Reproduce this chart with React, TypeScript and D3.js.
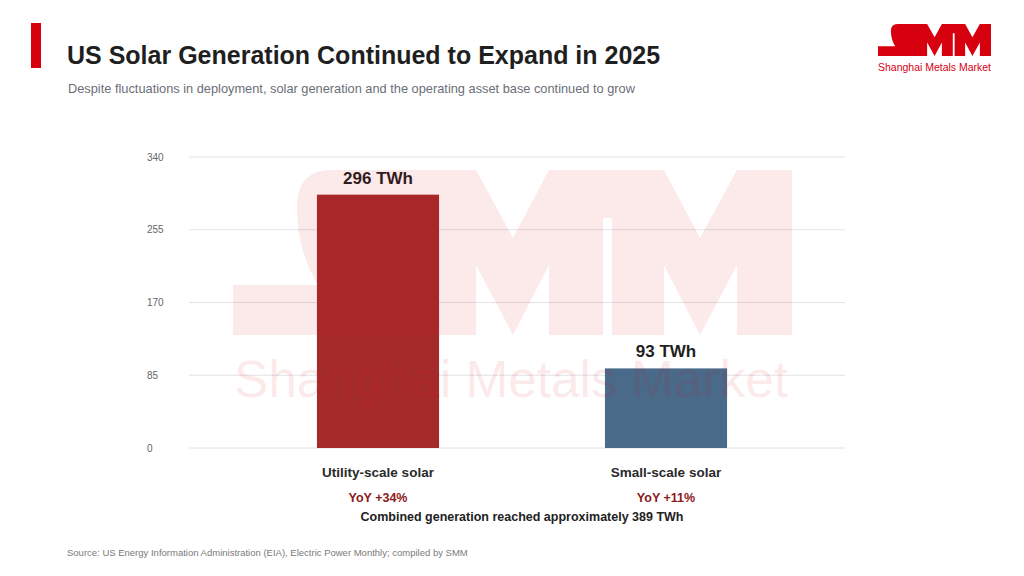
import React from "react";
import * as d3 from "d3";

const categories = ["Utility-scale solar", "Small-scale solar"];
const generationTWh = [296, 93];
const valueLabels = ["296 TWh", "93 TWh"];
const yoyLabels = ["YoY +34%", "YoY +11%"];
const yTicks = [0, 85, 170, 255, 340];

const TITLE = "US Solar Generation Continued to Expand in 2025";
const SUBTITLE = "Despite fluctuations in deployment, solar generation and the operating asset base continued to grow";
const COMBINED = "Combined generation reached approximately 389 TWh";
const SOURCE = "Source: US Energy Information Administration (EIA), Electric Power Monthly; compiled by SMM";
const BRAND = "Shanghai Metals Market";

const BAR_COLORS = ["#a52b2b", "#4a6a8a"];
const RED = "#d7000f";
const FONT = "'Liberation Sans', Arial, Helvetica, sans-serif";

// SMM mark outline in a 559 x 165 box
const SMM_PATH =
  "M0,165 L0,115 L85,115 C71,92 64,65 64,38 C64,15 74,0 97,0 L243,0 L280,68 L316,0 L431,0 L467,68 L504,0 L559,0 L559,165 L504,165 L504,95 L467,165 L431,95 L431,165 L379,165 L379,48 L370,48 L370,165 L316,165 L316,95 L280,165 L243,95 L243,165 Z";

export default function App() {
  const y = d3.scaleLinear().domain([0, 340]).range([448, 157]);
  const x = d3
    .scaleBand<string>()
    .domain(categories)
    .range([234, 810])
    .paddingInner(0.576)
    .paddingOuter(0.288);
  const gridX0 = 189;
  const gridX1 = 845;
  const bw = x.bandwidth();

  return (
    <svg
      width={1024}
      height={576}
      style={{ position: "absolute", left: 0, top: 0, background: "#fff" }}
      fontFamily={FONT}
    >
      <rect x={0} y={0} width={1024} height={576} fill="#fff" />
      {/* header */}
      <rect x={31} y={23} width={10} height={45} fill={RED} />
      <text x={67} y={64} fontSize={25} fontWeight="bold" fill="#1f1f1f">
        {TITLE}
      </text>
      <text x={68} y={93} fontSize={12.8} fill="#6b6e78">
        {SUBTITLE}
      </text>

      {/* logo */}
      <path d={SMM_PATH} fill={RED} transform={`translate(878,24) scale(${113 / 559},${32 / 165})`} />
      <text x={878} y={71} fontSize={10.5} fill={RED} textLength={113} lengthAdjust="spacingAndGlyphs">
        {BRAND}
      </text>

      {/* grid */}
      {yTicks.map((t) => (
        <g key={t}>
          <line x1={gridX0} x2={gridX1} y1={y(t)} y2={y(t)} stroke="#e2e2e8" strokeWidth={1} />
          <text x={147} y={y(t)} dy="0.35em" fontSize={10} fill="#666">
            {t}
          </text>
        </g>
      ))}

      {/* bars */}
      {categories.map((c, i) => (
        <g key={c}>
          <rect x={x(c)} y={y(generationTWh[i])} width={bw} height={y(0) - y(generationTWh[i])} fill={BAR_COLORS[i]} />
          <text
            x={(x(c) as number) + bw / 2}
            y={y(generationTWh[i]) - 11}
            textAnchor="middle"
            fontSize={17}
            fontWeight="bold"
            fill="#1f1f1f"
          >
            {valueLabels[i]}
          </text>
          <text x={(x(c) as number) + bw / 2} y={477} textAnchor="middle" fontSize={13.5} fontWeight="bold" fill="#2a2a2a">
            {c}
          </text>
          <text x={(x(c) as number) + bw / 2} y={502} textAnchor="middle" fontSize={12.5} fontWeight="bold" fill="#8b1a1a">
            {yoyLabels[i]}
          </text>
        </g>
      ))}

      <text x={(234 + 810) / 2} y={521} textAnchor="middle" fontSize={12.5} fontWeight="bold" fill="#222">
        {COMBINED}
      </text>

      {/* watermark */}
      <g fill={RED} fillOpacity={0.085} pointerEvents="none">
        <path d={SMM_PATH} transform="translate(233,170)" />
        <text x={234} y={397} fontSize={52} textLength={554} lengthAdjust="spacingAndGlyphs">
          {BRAND}
        </text>
      </g>

      <text x={67} y={556} fontSize={9.5} fill="#7a7a7a">
        {SOURCE}
      </text>
    </svg>
  );
}
